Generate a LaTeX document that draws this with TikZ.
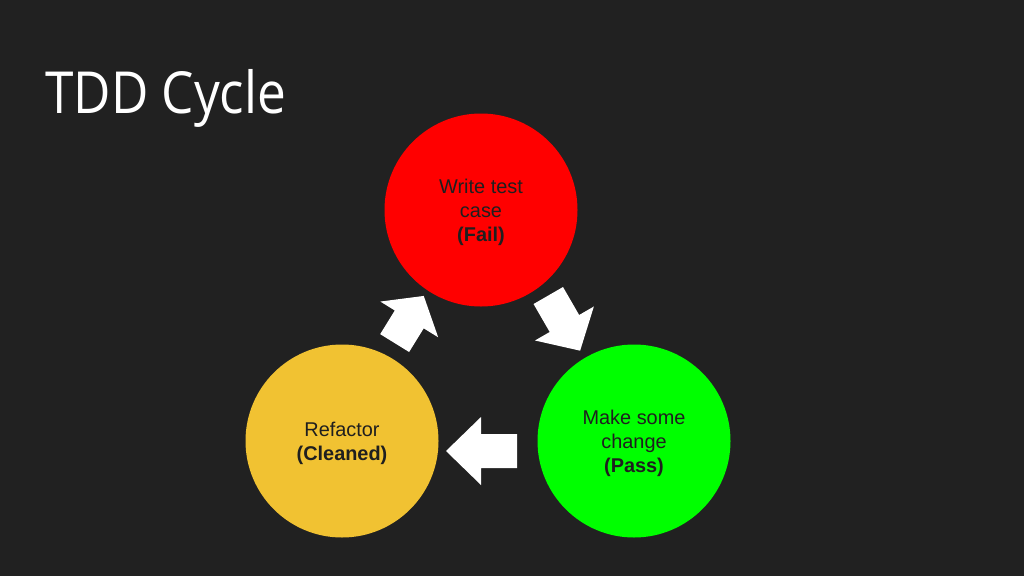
\documentclass[tikz,border=0pt]{standalone}
\usepackage{fontspec}
\setmainfont{Liberation Sans}
\newfontfamily\titlefont[FakeStretch=0.885]{Open Sans}
\usepackage{xcolor}
\usepackage{tikz}
\usetikzlibrary{positioning}

\definecolor{slidebg}{HTML}{212121}
\definecolor{failred}{HTML}{FF0000}
\definecolor{passgreen}{HTML}{00FF00}
\definecolor{cleanyellow}{HTML}{F1C232}
\definecolor{labeldark}{HTML}{1F1F1F}

\begin{document}
\begin{tikzpicture}[
        x=1pt, y=-1pt,
        phase/.style={
            circle,
            minimum size=193pt,
            inner sep=0pt,
            fill=#1
        },
        phasetext/.style={
            align=center,
            inner sep=0pt,
            yshift=-2.5pt,
            text=labeldark,
            font=\fontsize{19.9}{23.9}\selectfont
        },
        pics/blockarrow/.style 2 args={
            code={
                \fill[white] (-#1/2,-17) -- (#1/2-#2,-17) -- (#1/2-#2,-34)
                    -- (#1/2,0) -- (#1/2-#2,34) -- (#1/2-#2,17)
                    -- (-#1/2,17) -- cycle;
            }
        }
    ]

        % slide background
        \fill[slidebg] (0,0) rectangle (1024,576);
        \useasboundingbox (0,0) rectangle (1024,576);

        \node[anchor=base west, inner sep=0pt, text=white,
              font=\titlefont\fontsize{58}{66}\selectfont] (title) at (45,113) {TDD Cycle};

        \node[phase=failred, label={[phasetext]center:Write test\\ case\\ \textbf{(Fail)}}] (write) at (481,210) {};
        \node[phase=cleanyellow, label={[phasetext]center:Refactor\\ \textbf{(Cleaned)}}] (refactor) at (342,441) {};
        \node[phase=passgreen, label={[phasetext]center:Make some\\ change\\ \textbf{(Pass)}}] (change) at (634,441) {};

        % arrows between the phases
        \pic[rotate=58.3] (up) at (409.2,319.5) {blockarrow={55.4}{27.6}};
        \pic[rotate=-60] (down) at (564.2,323.1) {blockarrow={63.7}{31.4}};
        \pic[rotate=180] (back) at (481.5,451) {blockarrow={71}{35}};

    \end{tikzpicture}
\end{document}
